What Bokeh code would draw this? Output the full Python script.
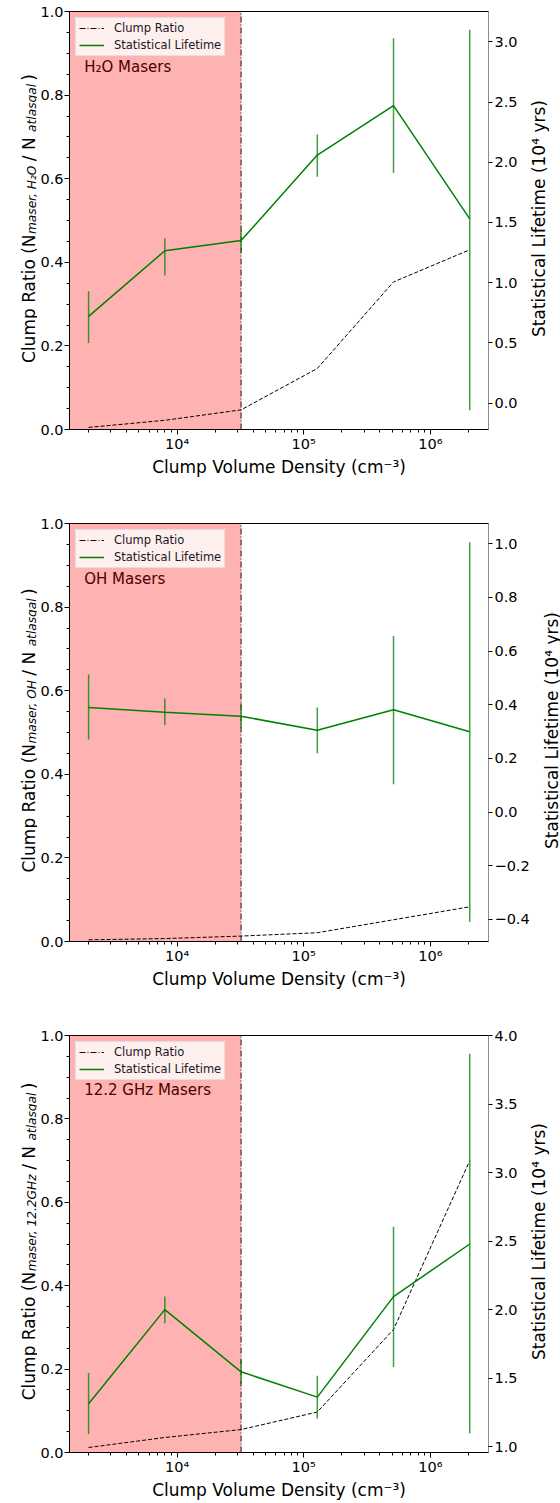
import math
from bokeh.plotting import figure
from bokeh.models import (Range1d, LinearAxis, FixedTicker, CustomJSTickFormatter,
                          BoxAnnotation, Label, Legend, LegendItem)
from bokeh.layouts import column, row
from bokeh.embed import file_html
from bokeh.resources import INLINE

# ---------------- data ----------------
density = [2000, 8000, 32000, 128000, 512000, 2048000]
threshold = 32000
ratio_limits = (0.0, 1.0)

h2o_ratio = [0.005, 0.022, 0.047, 0.146, 0.353, 0.430]
h2o_life = [0.72, 1.265, 1.35, 2.06, 2.47, 1.53]
h2o_life_lo = [0.50, 1.06, 1.255, 1.88, 1.91, -0.06]
h2o_life_hi = [0.93, 1.37, 1.44, 2.23, 3.03, 3.10]

oh_ratio = [0.004, 0.007, 0.013, 0.021, 0.052, 0.083]
oh_life = [0.39, 0.372, 0.357, 0.305, 0.381, 0.299]
oh_life_lo = [0.27, 0.324, 0.313, 0.219, 0.104, -0.409]
oh_life_hi = [0.513, 0.423, 0.405, 0.39, 0.656, 1.005]

ghz_ratio = [0.012, 0.036, 0.055, 0.097, 0.295, 0.70]
ghz_life = [1.313, 2.0, 1.546, 1.361, 2.095, 2.479]
ghz_life_lo = [1.092, 1.90, 1.457, 1.205, 1.582, 1.097]
ghz_life_hi = [1.537, 2.095, 1.633, 1.517, 2.605, 3.867]

ratio_ticks = [0.0, 0.2, 0.4, 0.6, 0.8, 1.0]
ratio_minor = [0.05, 0.1, 0.15, 0.25, 0.3, 0.35, 0.45, 0.5, 0.55, 0.65, 0.7, 0.75, 0.85, 0.9, 0.95]
h2o_life_ticks = [0.0, 0.5, 1.0, 1.5, 2.0, 2.5, 3.0]
oh_life_ticks = [-0.4, -0.2, 0.0, 0.2, 0.4, 0.6, 0.8, 1.0]
ghz_life_ticks = [1.0, 1.5, 2.0, 2.5, 3.0, 3.5, 4.0]
x_ticks = [1e4, 1e5, 1e6]
x_minor = [m * 10 ** e for e in (3, 4, 5, 6) for m in range(2, 10)]

h2o_life_range = (-0.219, 3.252)
oh_life_range = (-0.482, 1.075)
ghz_life_range = (0.957, 4.001)
x_limits = (1413, 2880000)

FONT = "DejaVu Sans"
W = {' ': .318, '(': .390, ')': .390, ',': .318, '.': .318, '/': .337, '₂': .401,
     'C': .698, 'G': .775, 'H': .752, 'N': .748, 'O': .787, 'R': .695, 'z': .525,
     'a': .613, 'c': .550, 'e': .615, 'g': .635, 'i': .278, 'l': .278, 'm': .974,
     'n': .634, 'o': .612, 'p': .635, 'r': .411, 's': .521, 't': .392, 'u': .634}
for d in "0123456789":
    W[d] = .636


def tw(s, size):
    return sum(W.get(c, 0.6) for c in s) * size


num_fmt = CustomJSTickFormatter(code="return (tick < -1e-9 ? '\\u2212' : '') + Math.abs(tick).toFixed(1);")
log_fmt = CustomJSTickFormatter(code="""
const sup = {'0':'\\u2070','1':'\\u00b9','2':'\\u00b2','3':'\\u00b3','4':'\\u2074','5':'\\u2075',
             '6':'\\u2076','7':'\\u2077','8':'\\u2078','9':'\\u2079','-':'\\u207b'};
const e = Math.round(Math.log10(tick));
return '10' + String(e).split('').map(c => sup[c]).join('');
""")

FRAME_W = 422
FRAME_H = 422
LEFT_FIG = 37
MAIN_LEFT = 30
TOTAL_W = 560
LABEL_PX = 17


def style_axis(ax, minor=True):
    ax.major_label_text_font = FONT
    ax.major_label_text_font_size = "14.5px"
    ax.major_label_text_color = "black"
    ax.major_tick_in = 0
    ax.major_tick_out = 5
    ax.minor_tick_in = 0
    ax.minor_tick_out = 3 if minor else 0
    ax.axis_line_color = "black"
    ax.major_tick_line_color = "black"
    ax.minor_tick_line_color = "black"
    ax.major_label_standoff = 1


def side_fig(width, height):
    f = figure(width=width, height=height, x_axis_type=None, y_axis_type=None,
               x_range=Range1d(0, 1), y_range=Range1d(0, 1),
               output_backend="svg", toolbar_location=None, min_border=0,
               min_border_left=0, min_border_right=0)
    f.outline_line_color = None
    f.background_fill_color = "white"
    f.border_fill_color = "white"
    return f


def make_panel(name, sub, ratio, life, lo, hi, life_range, life_ticks, bt, bb,
               main_right, right_x):
    height = bt + FRAME_H + bb
    main_w = MAIN_LEFT + FRAME_W + main_right
    p = figure(width=main_w, height=height, x_axis_type="log",
               x_range=Range1d(*x_limits), y_range=Range1d(*ratio_limits),
               output_backend="svg", toolbar_location=None,
               min_border_left=MAIN_LEFT, min_border_right=main_right,
               min_border_top=bt, min_border_bottom=bb)
    p.extra_y_ranges = {"life": Range1d(*life_range)}
    p.xgrid.visible = False
    p.ygrid.visible = False
    p.outline_line_color = "black"
    p.background_fill_color = "white"
    p.border_fill_color = "white"

    p.add_layout(BoxAnnotation(right=threshold, fill_color="red", fill_alpha=0.3,
                               line_color=None, level="underlay"))
    r_thr = p.segment(x0=[threshold], y0=[ratio_limits[0]], x1=[threshold], y1=[ratio_limits[1]],
                      line_color="#3a0000", line_dash="6 2 1 2", line_width=1)

    p.line(density, ratio, line_color="black", line_dash="4 2", line_width=1)
    p.segment(x0=density, y0=lo, x1=density, y1=hi, y_range_name="life",
              line_color="green", line_width=1.5, line_alpha=0.75)
    r_life = p.line(density, life, y_range_name="life", line_color="green", line_width=1.5)

    legend = Legend(items=[LegendItem(label="Clump Ratio", renderers=[r_thr]),
                           LegendItem(label="Statistical Lifetime", renderers=[r_life])],
                    location="top_left", margin=6, padding=3, spacing=3,
                    glyph_width=25, glyph_height=14, label_height=14, label_standoff=10,
                    label_text_font=FONT, label_text_font_size="11.5px",
                    label_text_color="#1a1a1a",
                    background_fill_color="white", background_fill_alpha=0.8,
                    border_line_color="#cccccc", border_line_width=1)
    p.add_layout(legend)

    # axes
    p.xaxis.ticker = FixedTicker(ticks=x_ticks, minor_ticks=x_minor)
    p.xaxis.formatter = log_fmt
    p.yaxis.ticker = FixedTicker(ticks=ratio_ticks, minor_ticks=ratio_minor)
    p.yaxis.formatter = num_fmt
    style_axis(p.xaxis[0])
    style_axis(p.yaxis[0])
    p.xaxis.axis_label = "Clump Volume Density (cm\u207b\u00b3)"
    p.xaxis.axis_label_text_font = FONT
    p.xaxis.axis_label_text_font_size = f"{LABEL_PX}px"
    p.xaxis.axis_label_text_font_style = "normal"
    p.xaxis.axis_label_text_color = "black"
    p.xaxis.axis_label_standoff = 2
    right = LinearAxis(y_range_name="life", ticker=FixedTicker(ticks=life_ticks, minor_ticks=[]),
                       formatter=num_fmt)
    style_axis(right, minor=False)
    right.major_tick_out = 4
    right.major_label_standoff = 2
    right.axis_line_color = "#8c8c8c"
    p.add_layout(right, "right")

    # panel label
    p.add_layout(Label(x=14.7, y=FRAME_H - 59, x_units="screen", y_units="screen",
                       text=name, text_font=FONT, text_font_size="15px",
                       text_color="#4d0000", text_baseline="middle", text_align="left"))

    # left axis title (with subscripts) in its own strip; its frame lines up
    # vertically with the main frame inside the row
    lf = side_fig(LEFT_FIG, height)
    F, f = LABEL_PX, LABEL_PX * 0.72
    gap = 3
    pieces = [("Clump Ratio (N", False), (sub, True), (" / N", False),
              ("atlasgal", True), (")", False)]
    total = sum(tw(t, f if s else F) + (gap if s else 0) for t, s in pieces)
    cur = FRAME_H / 2 - total / 2
    for t, s in pieces:
        size = f if s else F
        lf.add_layout(Label(x=28 + (3 if s else 0), y=cur, x_units="screen", y_units="screen",
                            angle=math.pi / 2, text=t, text_font=FONT,
                            text_font_size=f"{size:.1f}px",
                            text_font_style="italic" if s else "normal",
                            text_color="black", text_align="left",
                            text_baseline="alphabetic"))
        cur += tw(t, size) + (gap if s else 0)

    # right axis title in its own strip
    rw = TOTAL_W - LEFT_FIG - main_w
    rf = side_fig(rw, height)
    rf.add_layout(Label(x=right_x, y=FRAME_H / 2, x_units="screen", y_units="screen",
                        angle=math.pi / 2,
                        text="Statistical Lifetime (10\u2074 yrs)", text_font=FONT,
                        text_font_size=f"{LABEL_PX}px", text_color="black",
                        text_align="center", text_baseline="alphabetic"))
    return row(lf, p, rf, spacing=0)


r1 = make_panel("H\u2082O Masers", "maser, H\u2082O", h2o_ratio, h2o_life, h2o_life_lo,
                h2o_life_hi, h2o_life_range, h2o_life_ticks, 11, 46, 31, 18)
r2 = make_panel("OH Masers", "maser, OH", oh_ratio, oh_life, oh_life_lo,
                oh_life_hi, oh_life_range, oh_life_ticks, 44, 46, 43, 19)
r3 = make_panel("12.2 GHz Masers", "maser, 12.2GHz", ghz_ratio, ghz_life, ghz_life_lo,
                ghz_life_hi, ghz_life_range, ghz_life_ticks, 44, 45, 31, 18)

layout = column(r1, r2, r3, spacing=0)
open("out.html", "w").write(file_html(layout, INLINE))
